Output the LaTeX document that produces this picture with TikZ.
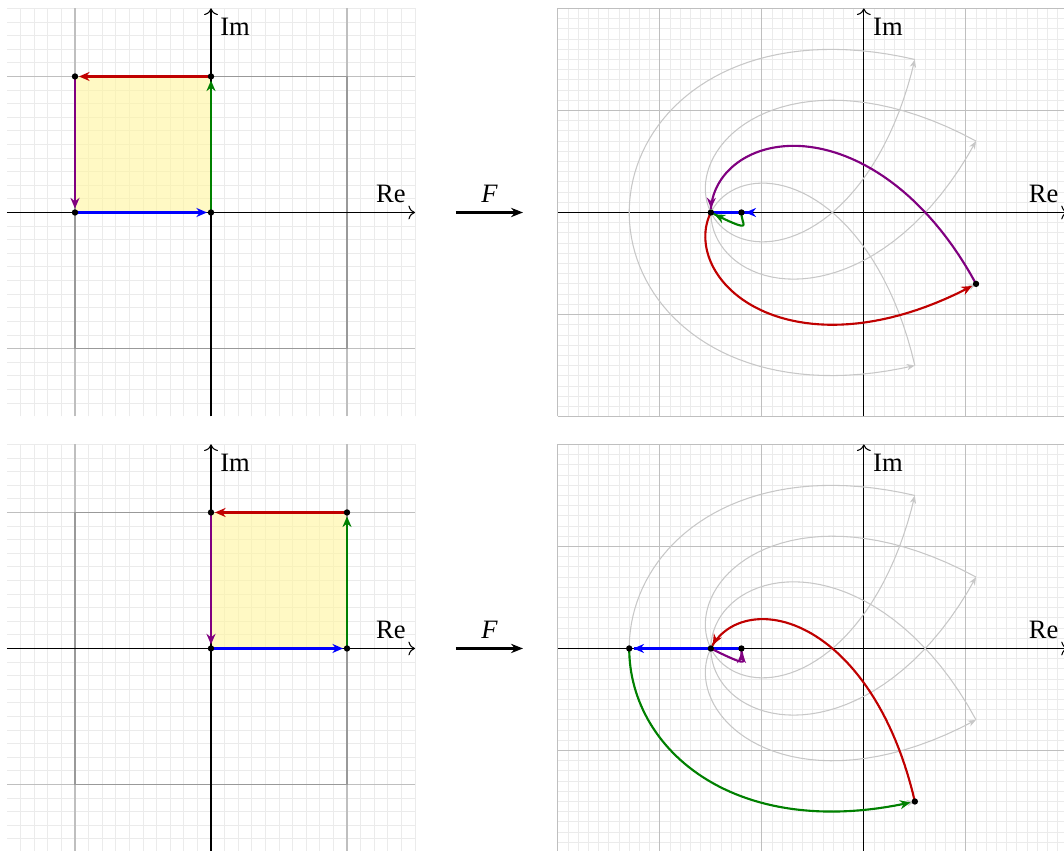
\documentclass[tikz,border=0pt]{standalone}
\usepackage{fontspec}
\setmainfont{Liberation Serif}
\usetikzlibrary{arrows.meta}
\definecolor{edgeblue}{HTML}{0000FF}
\definecolor{edgegreen}{HTML}{008000}
\definecolor{edgered}{HTML}{C00000}
\definecolor{edgepurple}{HTML}{800080}
\definecolor{sqfillc}{HTML}{FFF59D}
\begin{document}
\begin{tikzpicture}[
  declare function={
    reF(\x,\y)=0.1*((\x)*(\x)*(\x)*(\x)*(\x)-10*(\x)*(\x)*(\x)*(\y)*(\y)+5*(\x)*(\y)*(\y)*(\y)*(\y))
      -0.5*((\x)*(\x)*(\x)*(\x)-6*(\x)*(\x)*(\y)*(\y)+(\y)*(\y)*(\y)*(\y))
      -0.2*((\x)*(\x)*(\x)-3*(\x)*(\y)*(\y))-0.2*((\x)*(\x)-(\y)*(\y))-0.3*(\x)-1.2;
    imF(\x,\y)=0.1*(5*(\x)*(\x)*(\x)*(\x)*(\y)-10*(\x)*(\x)*(\y)*(\y)*(\y)+(\y)*(\y)*(\y)*(\y)*(\y))
      -0.5*(4*(\x)*(\x)*(\x)*(\y)-4*(\x)*(\y)*(\y)*(\y))
      -0.2*(3*(\x)*(\x)*(\y)-(\y)*(\y)*(\y))-0.4*(\x)*(\y)-0.3*(\y);
  },
  minorgrid/.style={black!8,line width=0.3pt},
  majorgrid/.style={black!25,line width=0.4pt},
  boxline/.style={black!40,line width=0.7pt},
  axisline/.style={black,line width=0.4pt,->},
  sqedge/.style={thick,shorten >=1.5pt,-{Stealth[length=4pt,width=3.4pt]}},
  imgline/.style={black!22,line width=0.4pt,-{Stealth[length=3pt,width=2.4pt]}},
  maparrow/.style={thick,-{Stealth[length=4.5pt,width=3.5pt]}},
  sqfill/.style={fill=sqfillc,fill opacity=0.6}
]
\useasboundingbox (-2.7925,-8.450) rectangle (11.289,2.812);

\begin{scope}[x=1.8cm,y=1.8cm]
\draw[minorgrid] (-1.5,-1.5) grid[step=0.1] (1.5,1.5);
\draw[majorgrid] (-1.5,-1.5) grid[step=1] (1.5,1.5);
\fill[sqfill] (-1,0) rectangle (0,1);
\draw[boxline] (-1,-1) rectangle (1,1);
\draw[axisline] (-1.5,0) -- (1.5,0) node[above left] (reTL) {Re};
\draw[axisline] (0,-1.5) -- (0,1.5) node[below right] (imTL) {Im};
\coordinate (tlm) at (-1,0);
\coordinate (tlo) at (0,0);
\coordinate (tli) at (0,1);
\coordinate (tlc) at (-1,1);
\draw[sqedge,edgeblue] (tlm) -- (tlo);
\draw[sqedge,edgegreen] (tlo) -- (tli);
\draw[sqedge,edgered] (tli) -- (tlc);
\draw[sqedge,edgepurple] (tlc) -- (tlm);
\fill (tlm) circle (1.2pt);
\fill (tlo) circle (1.2pt);
\fill (tli) circle (1.2pt);
\fill (tlc) circle (1.2pt);
\end{scope}

\coordinate (fstartT) at (3.242,0);
\coordinate (fendT) at (4.129,0);
\draw[maparrow] (fstartT) -- node[above] (fT) {\itshape F} (fendT);

\begin{scope}[shift={(8.64,0)},x=1.35cm,y=1.35cm]
\draw[minorgrid] (-3,-2) grid[step=0.1] (2,2);
\draw[majorgrid] (-3,-2) grid[step=1] (2,2);
\draw[axisline] (-3,0) -- (2,0) node[above left] (reTR) {Re};
\draw[axisline] (0,-2) -- (0,2) node[below right] (imTR) {Im};
\draw[imgline] plot[domain=-1:1,samples=80,variable=\t] ({reF(\t,-1)},{imF(\t,-1)});
\draw[imgline] plot[domain=-1:1,samples=80,variable=\t] ({reF(1,\t)},{imF(1,\t)});
\draw[imgline] plot[domain=1:-1,samples=80,variable=\t] ({reF(\t,1)},{imF(\t,1)});
\draw[imgline] plot[domain=1:-1,samples=80,variable=\t] ({reF(-1,\t)},{imF(-1,\t)});
\draw[sqedge,edgeblue] plot[domain=-1:0,samples=60,variable=\t] ({reF(\t,0)},{imF(\t,0)});
\draw[sqedge,edgegreen] plot[domain=0:1,samples=60,variable=\t] ({reF(0,\t)},{imF(0,\t)});
\draw[sqedge,edgered] plot[domain=0:-1,samples=60,variable=\t] ({reF(\t,1)},{imF(\t,1)});
\draw[sqedge,edgepurple] plot[domain=1:0,samples=60,variable=\t] ({reF(-1,\t)},{imF(-1,\t)});
\fill ({reF(-1,0)},{imF(-1,0)}) circle (1.2pt);
\fill ({reF(0,0)},{imF(0,0)}) circle (1.2pt);
\fill ({reF(-1,1)},{imF(-1,1)}) circle (1.2pt);
\end{scope}

\begin{scope}[shift={(0,-5.77)},x=1.8cm,y=1.8cm]
\draw[minorgrid] (-1.5,-1.5) grid[step=0.1] (1.5,1.5);
\draw[majorgrid] (-1.5,-1.5) grid[step=1] (1.5,1.5);
\fill[sqfill] (0,0) rectangle (1,1);
\draw[boxline] (-1,-1) rectangle (1,1);
\draw[axisline] (-1.5,0) -- (1.5,0) node[above left] (reBL) {Re};
\draw[axisline] (0,-1.5) -- (0,1.5) node[below right] (imBL) {Im};
\coordinate (blo) at (0,0);
\coordinate (blp) at (1,0);
\coordinate (blc) at (1,1);
\coordinate (bli) at (0,1);
\draw[sqedge,edgeblue] (blo) -- (blp);
\draw[sqedge,edgegreen] (blp) -- (blc);
\draw[sqedge,edgered] (blc) -- (bli);
\draw[sqedge,edgepurple] (bli) -- (blo);
\fill (blo) circle (1.2pt);
\fill (blp) circle (1.2pt);
\fill (blc) circle (1.2pt);
\fill (bli) circle (1.2pt);
\end{scope}

\coordinate (fstartB) at (3.242,-5.77);
\coordinate (fendB) at (4.129,-5.77);
\draw[maparrow] (fstartB) -- node[above] (fB) {\itshape F} (fendB);

\begin{scope}[shift={(8.64,-5.77)},x=1.35cm,y=1.35cm]
\draw[minorgrid] (-3,-2) grid[step=0.1] (2,2);
\draw[majorgrid] (-3,-2) grid[step=1] (2,2);
\draw[axisline] (-3,0) -- (2,0) node[above left] (reBR) {Re};
\draw[axisline] (0,-2) -- (0,2) node[below right] (imBR) {Im};
\draw[imgline] plot[domain=-1:1,samples=80,variable=\t] ({reF(\t,-1)},{imF(\t,-1)});
\draw[imgline] plot[domain=-1:1,samples=80,variable=\t] ({reF(1,\t)},{imF(1,\t)});
\draw[imgline] plot[domain=1:-1,samples=80,variable=\t] ({reF(\t,1)},{imF(\t,1)});
\draw[imgline] plot[domain=1:-1,samples=80,variable=\t] ({reF(-1,\t)},{imF(-1,\t)});
\draw[sqedge,edgeblue] plot[domain=0:1,samples=60,variable=\t] ({reF(\t,0)},{imF(\t,0)});
\draw[sqedge,edgegreen] plot[domain=0:1,samples=60,variable=\t] ({reF(1,\t)},{imF(1,\t)});
\draw[sqedge,edgered] plot[domain=1:0,samples=60,variable=\t] ({reF(\t,1)},{imF(\t,1)});
\draw[sqedge,edgepurple] plot[domain=1:0,samples=60,variable=\t] ({reF(0,\t)},{imF(0,\t)});
\fill ({reF(0,0)},{imF(0,0)}) circle (1.2pt);
\fill ({reF(1,0)},{imF(1,0)}) circle (1.2pt);
\fill ({reF(1,1)},{imF(1,1)}) circle (1.2pt);
\fill ({reF(0,1)},{imF(0,1)}) circle (1.2pt);
\end{scope}
\end{tikzpicture}
\end{document}
